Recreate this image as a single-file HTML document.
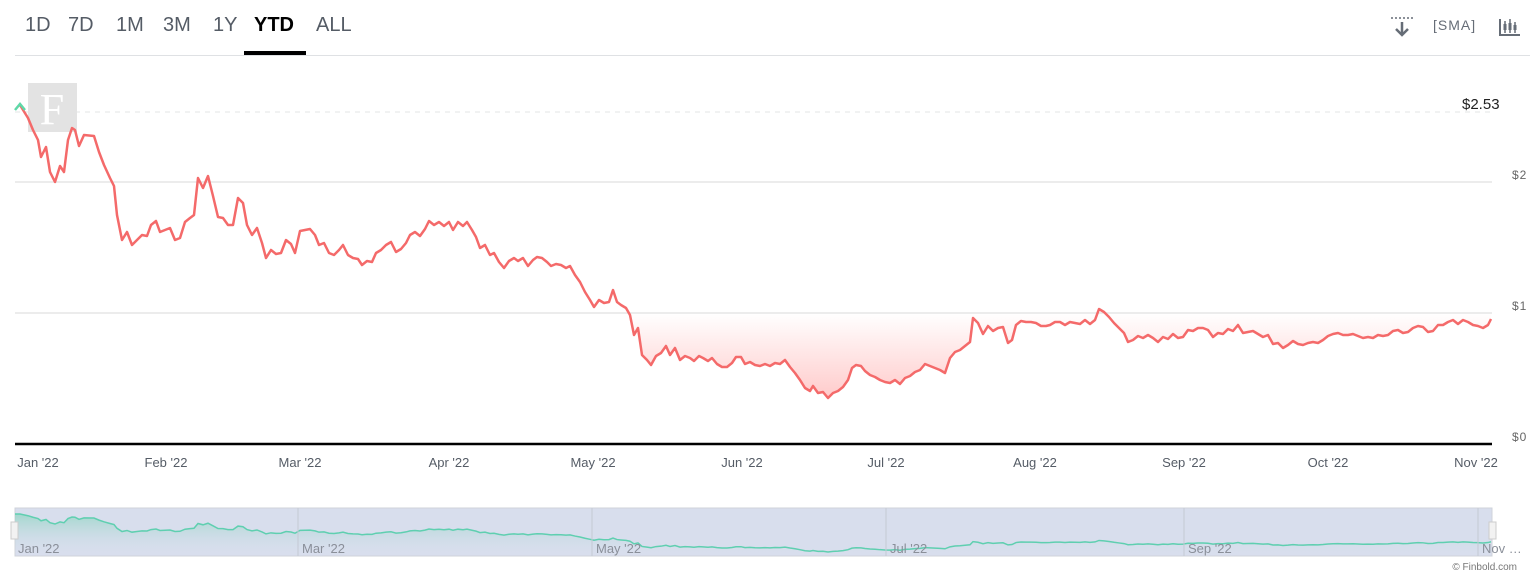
<!DOCTYPE html>
<html><head><meta charset="utf-8"><style>
html,body{margin:0;padding:0;background:#fff;width:1537px;height:582px;overflow:hidden;font-family:"Liberation Sans",sans-serif}
.tab{position:absolute;top:14px;font-size:20px;color:#555c66}
</style></head><body>
<div class="tab" style="left:25px">1D</div>
<div class="tab" style="left:68px">7D</div>
<div class="tab" style="left:116px">1M</div>
<div class="tab" style="left:163px">3M</div>
<div class="tab" style="left:213px">1Y</div>
<div class="tab" style="left:254px;color:#000;font-weight:bold">YTD</div>
<div class="tab" style="left:316px">ALL</div>
<div style="position:absolute;left:244px;top:51px;width:62px;height:5px;background:#000"></div>
<div style="position:absolute;left:15px;top:55px;width:1515px;height:1px;background:#dfe1e4"></div>
<div style="position:absolute;left:1433px;top:17px;font-size:14px;color:#666d77;letter-spacing:1px">[SMA]</div>
<svg width="1537" height="582" style="position:absolute;left:0;top:0">
<defs>
<linearGradient id="g" gradientUnits="userSpaceOnUse" x1="0" y1="313" x2="0" y2="400"><stop offset="0" stop-color="#f66" stop-opacity="0"/><stop offset="1" stop-color="#f66" stop-opacity="0.35"/></linearGradient>
<linearGradient id="ng" x1="0" y1="0" x2="0" y2="1"><stop offset="0" stop-color="#7fd3b8" stop-opacity="0.6"/><stop offset="1" stop-color="#d8deed" stop-opacity="0"/></linearGradient>
<clipPath id="c"><rect x="0" y="313" width="1537" height="200"/></clipPath>
</defs>
<!-- icons -->
<g fill="#666d77"><circle cx="1392" cy="18" r="1"/><circle cx="1396" cy="18" r="1"/><circle cx="1400" cy="18" r="1"/><circle cx="1404" cy="18" r="1"/><circle cx="1408" cy="18" r="1"/><circle cx="1412" cy="18" r="1"/></g>
<path d="M1402 22v13M1396 29l6 6 6-6" stroke="#666d77" stroke-width="2.5" fill="none"/>
<path d="M1500 19v16h20" stroke="#666d77" stroke-width="2" fill="none"/>
<g stroke="#666d77" stroke-width="1.5"><path d="M1505 21v12M1510 19v14M1515 22v11"/></g>
<g fill="#666d77"><rect x="1503.5" y="24" width="3" height="6"/><rect x="1508.5" y="23" width="3" height="7"/><rect x="1513.5" y="25" width="3" height="5"/></g>
<!-- grid -->
<line x1="15" y1="182" x2="1492" y2="182" stroke="#e6e6e6" stroke-width="1.5"/>
<line x1="15" y1="313" x2="1492" y2="313" stroke="#e6e6e6" stroke-width="1.5"/>
<line x1="15" y1="112" x2="1492" y2="112" stroke="#e3e6e6" stroke-width="1" stroke-dasharray="5,5"/>
<rect x="28" y="83" width="49" height="49" fill="#e3e3e3"/>
<text x="52" y="124" font-family="Liberation Serif,serif" font-size="44" fill="#fff" text-anchor="middle">F</text>
<path id="fill" fill="url(#g)" clip-path="url(#c)"/>
<path id="line" fill="none" stroke="#f46a6a" stroke-width="2.5" stroke-linejoin="round"/>
<path d="M15 110l5-6 5 6" fill="none" stroke="#5fd8a8" stroke-width="2.5"/>
<line x1="15" y1="444" x2="1492" y2="444" stroke="#000" stroke-width="2.5"/>
<text x="1462" y="109" font-size="15" fill="#222">$2.53</text>
<g font-size="12" fill="#666" letter-spacing="1"><text x="1512" y="179">$2</text><text x="1512" y="310">$1</text><text x="1512" y="441">$0</text></g>
<g font-size="13" fill="#555c66" text-anchor="middle">
<text x="38" y="467">Jan '22</text><text x="166" y="467">Feb '22</text><text x="300" y="467">Mar '22</text><text x="449" y="467">Apr '22</text><text x="593" y="467">May '22</text><text x="742" y="467">Jun '22</text><text x="886" y="467">Jul '22</text><text x="1035" y="467">Aug '22</text><text x="1184" y="467">Sep '22</text><text x="1328" y="467">Oct '22</text><text x="1476" y="467">Nov '22</text>
</g>
<!-- navigator -->
<rect x="15" y="508" width="1477" height="48" fill="#d8deed" stroke="#cfd3da"/>
<g id="navg" transform="matrix(1 0 0 0.1297 0 500.4)">
<path id="nfill" fill="url(#ng)"/>
<path id="nline" fill="none" stroke="#5fcfb0" stroke-width="1.5" vector-effect="non-scaling-stroke"/>
</g>
<g stroke="#c4c9d4"><line x1="298" y1="508" x2="298" y2="556"/><line x1="592" y1="508" x2="592" y2="556"/><line x1="886" y1="508" x2="886" y2="556"/><line x1="1184" y1="508" x2="1184" y2="556"/><line x1="1478" y1="508" x2="1478" y2="556"/></g>
<g font-size="13" fill="#8a8f99"><text x="18" y="553">Jan '22</text><text x="302" y="553">Mar '22</text><text x="596" y="553">May '22</text><text x="890" y="553">Jul '22</text><text x="1188" y="553">Sep '22</text><text x="1482" y="553">Nov …</text></g>
<rect x="11" y="522" width="7" height="17" fill="#f2f2f2" stroke="#ccc"/>
<rect x="1489" y="522" width="7" height="17" fill="#f2f2f2" stroke="#ccc"/>
<text x="1517" y="570" font-size="10" fill="#777" text-anchor="end">© Finbold.com</text>
</svg>
<script>
var p=[15,105,20,105,28,118,33,130,38,140,41,157,46,147,50,172,55,182,60,166,64,172,68,140,72,128,75,130,79,146,84,135,94,136,99,152,104,165,110,178,114,186,117,215,122,240,127,232,132,245,137,240,142,235,147,236,151,225,156,221,160,232,165,230,170,228,175,240,180,238,185,222,190,218,194,215,198,178,203,188,208,176,213,196,218,217,223,218,228,225,233,225,238,198,243,203,247,225,252,235,257,228,262,243,266,258,271,250,276,254,281,253,286,240,291,244,295,253,300,231,305,230,310,229,315,235,319,245,324,243,329,253,334,255,339,250,343,245,348,255,353,258,358,259,362,265,367,261,372,262,376,253,381,250,386,245,391,242,396,252,401,249,406,243,410,235,415,232,420,236,425,229,429,221,434,225,439,222,444,226,449,222,453,230,458,222,463,226,467,222,472,230,476,237,480,248,485,245,490,255,494,253,499,262,504,268,509,261,514,258,518,261,523,258,528,266,533,260,537,257,542,258,547,262,551,266,556,264,561,265,566,268,570,266,575,275,580,282,585,292,590,300,594,307,599,300,604,303,609,302,613,290,617,302,621,305,626,308,630,315,634,335,638,328,642,355,647,360,651,365,656,356,661,353,666,346,670,355,675,348,680,360,685,356,690,358,694,361,699,356,703,358,708,361,712,358,717,364,722,367,727,367,732,363,736,357,741,357,745,364,750,362,755,365,760,366,765,364,770,366,775,363,780,364,785,360,790,367,795,373,800,380,805,388,810,391,813,386,818,393,823,392,828,398,833,393,838,391,843,387,848,380,852,368,856,365,861,366,865,371,870,375,875,377,880,380,885,382,890,383,895,380,900,384,905,378,910,376,915,372,920,370,925,364,930,366,935,368,940,370,945,373,950,358,955,352,960,350,965,346,970,342,973,318,978,323,983,334,988,326,993,331,998,328,1003,327,1008,343,1012,340,1016,325,1021,321,1026,322,1031,322,1036,323,1041,326,1046,326,1050,325,1055,322,1060,322,1065,325,1070,322,1075,323,1080,324,1085,320,1090,324,1095,320,1099,309,1104,312,1109,317,1114,323,1119,328,1124,333,1128,342,1133,340,1138,336,1143,338,1148,335,1153,338,1158,342,1163,337,1168,339,1173,334,1178,338,1183,337,1188,330,1193,331,1198,328,1203,328,1208,330,1213,337,1218,333,1223,334,1228,329,1233,331,1238,325,1243,333,1248,332,1253,331,1258,334,1263,337,1268,335,1273,344,1278,343,1283,348,1288,345,1293,341,1298,344,1303,345,1308,343,1313,342,1318,343,1323,340,1328,336,1333,334,1338,333,1343,335,1348,335,1353,334,1358,336,1363,338,1368,337,1373,338,1378,335,1383,336,1388,335,1393,331,1398,330,1403,333,1408,332,1413,328,1418,326,1423,327,1428,332,1433,331,1438,325,1443,325,1448,322,1453,320,1458,324,1463,320,1468,322,1473,325,1478,326,1483,328,1488,325,1491,319];
var d="";for(var i=0;i<p.length;i+=2){d+=(i?"L":"M")+p[i]+" "+p[i+1];}
var dl=d.replace("M15 105","M28 118");
document.getElementById("line").setAttribute("d",dl);
document.getElementById("fill").setAttribute("d",d+"L1491 313L15 313Z");
document.getElementById("nline").setAttribute("d",d);
document.getElementById("nfill").setAttribute("d",d+"L1491 430L15 430Z");
</script>
</body></html>
